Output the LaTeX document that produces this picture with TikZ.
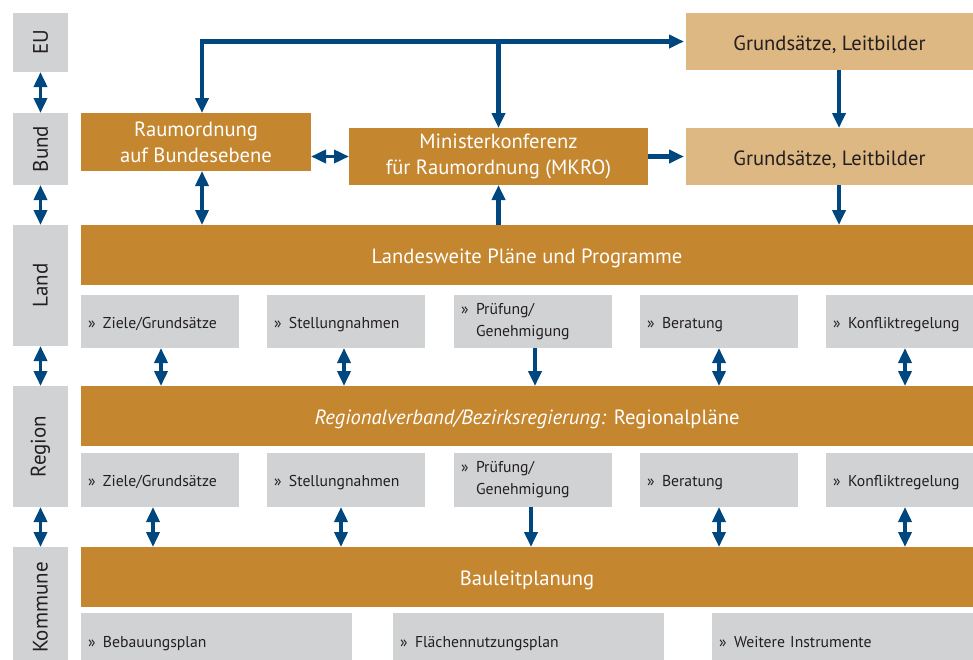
\documentclass[tikz,border=0pt]{standalone}
\usepackage{fontspec}
\setmainfont{PT Sans}
\usetikzlibrary{arrows.meta}
\definecolor{ochre}{HTML}{C4862F}
\definecolor{tan}{HTML}{DDB883}
\definecolor{panel}{HTML}{D1D2D4}
\definecolor{navy}{HTML}{00467F}
\definecolor{ink}{HTML}{231F20}
\newcommand{\bul}{\makebox[15pt][l]{»}}
\begin{document}
\begin{tikzpicture}[x=1pt,y=-1pt,
  blk/.style={anchor=north west, inner sep=0pt, outer sep=0pt},
  lvl/.style={blk, fill=panel, minimum width=55pt, text=ink, font=\fontsize{21}{24}\selectfont},
  body/.style={blk, fill=ochre, text=white, align=center, font=\fontsize{20.6}{26}\selectfont},
  bar/.style={body, minimum width=892pt, minimum height=60pt, text height=16.5pt, text depth=0pt},
  goal/.style={blk, fill=tan, text=ink, minimum width=287pt, minimum height=57pt,
    text height=17pt, text depth=0pt, font=\fontsize{20.6}{24}\selectfont},
  item/.style={blk, fill=panel, text=ink, align=left, inner xsep=7pt, font=\fontsize{15.7}{22}\selectfont},
  line1/.style={item, text height=13pt, text depth=0pt},
  tip/.tip={Triangle[width=13pt,length=15pt]},
  link/.style={draw=navy, line width=4.2pt, line join=miter, -tip},
  both/.style={draw=navy, line width=3.6pt, tip-tip},
]
\useasboundingbox (0,0) rectangle (973,659);

% level labels on the left
\node[lvl, minimum height=59pt]  (eu)   at (13,13)  {\rotatebox{90}{EU}};
\node[lvl, minimum height=72pt]  (bund) at (13,113) {\rotatebox{90}{Bund}};
\node[lvl, minimum height=121pt] (land) at (13,225) {\rotatebox{90}{Land}};
\node[lvl, minimum height=121pt] (reg)  at (13,386) {\rotatebox{90}{Region}};
\node[lvl, minimum height=121pt] (kom)  at (13,547) {\rotatebox{90}{Kommune}};

% federal level
\node[body, minimum width=230pt, minimum height=58pt] (rb) at (81,113) {Raumordnung\\auf Bundesebene};
\node[body, minimum width=299pt, minimum height=57pt] (mk) at (349,128) {Ministerkonferenz\\für Raumordnung (MKRO)};
\node[goal] (g1) at (686,13)  {Grundsätze, Leitbilder};
\node[goal] (g2) at (686,128) {Grundsätze, Leitbilder};

% state, region and municipal bars
\node[bar] (lp) at (81,225) {Landesweite Pläne und Programme};
\node[bar, text height=17pt] (rp) at (81,386) {\textit{Regionalverband/Bezirksregierung:} Regionalpläne};
\node[bar] (bl) at (81,547) {Bauleitplanung};

% instruments of the state level
\node[line1, text width=144pt, minimum height=53pt] (la1) at (81,295)  {\bul Ziele/Grundsätze};
\node[line1, text width=144pt, minimum height=53pt] (la2) at (267,295) {\bul Stellungnahmen};
\node[item,  text width=144pt, minimum height=53pt] (la3) at (454,295) {\bul Prüfung/\\\hspace*{15pt}Genehmigung};
\node[line1, text width=144pt, minimum height=53pt] (la4) at (640,295) {\bul Beratung};
\node[line1, text width=133pt, minimum height=53pt] (la5) at (826,295) {\bul Konfliktregelung};

% instruments of the regional level
\node[line1, text width=144pt, minimum height=54pt] (re1) at (81,453)  {\bul Ziele/Grundsätze};
\node[line1, text width=144pt, minimum height=54pt] (re2) at (267,453) {\bul Stellungnahmen};
\node[item,  text width=144pt, minimum height=54pt] (re3) at (454,453) {\bul Prüfung/\\\hspace*{15pt}Genehmigung};
\node[line1, text width=144pt, minimum height=54pt] (re4) at (640,453) {\bul Beratung};
\node[line1, text width=133pt, minimum height=54pt] (re5) at (826,453) {\bul Konfliktregelung};

% municipal instruments
\node[line1, text width=257pt, minimum height=55pt] (k1) at (81,613)  {\bul Bebauungsplan};
\node[line1, text width=257pt, minimum height=55pt] (k2) at (393,613) {\bul Flächennutzungsplan};
\node[line1, text width=247pt, minimum height=55pt] (k3) at (712,613) {\bul Weitere Instrumente};

% connectors between the level labels
\draw[both] (eu.south) -- (bund.north);
\draw[both] (bund.south) -- (land.north);
\draw[both] (land.south) -- (reg.north);
\draw[both] (reg.south) -- (kom.north);

% federal connectors
\coordinate (fork) at (202,42);
\draw[link, tip-tip] (fork |- rb.north) |- ([xshift=-2pt]g1.west);
\draw[link] (mk.north |- fork) -- (mk.north);
\draw[both] (rb.east |- mk.west) -- (mk.west);
\draw[link] (mk.east) -- ([xshift=-2pt]g2.west);
\draw[link] ([xshift=9.5pt]g1.south) -- ([xshift=9.5pt]g2.north);
\draw[link] ([xshift=9.5pt]g2.south) -- ([xshift=9.5pt]g2.south |- lp.north);
\draw[both] (fork |- rb.south) -- (fork |- lp.north);
\draw[link] (mk.south |- lp.north) -- (mk.south);

% state level to region
\draw[both] ([xshift=1pt]la1.south) -- ([xshift=1pt]la1.south |- rp.north);
\draw[both] ([xshift=-2pt]la2.south) -- ([xshift=-2pt]la2.south |- rp.north);
\draw[link] (la3.south -| 535,0) -- (rp.north -| 535,0);
\draw[both] (la4.south) -- (la4.south |- rp.north);
\draw[both] (la5.south -| 905,0) -- (rp.north -| 905,0);

% region to municipal level
\draw[both] (re1.south -| 153,0) -- (bl.north -| 153,0);
\draw[both] (re2.south -| 341,0) -- (bl.north -| 341,0);
\draw[link] (re3.south -| 531,0) -- (bl.north -| 531,0);
\draw[both] (re4.south) -- (re4.south |- bl.north);
\draw[both] (re5.south -| 905,0) -- (bl.north -| 905,0);
\end{tikzpicture}
\end{document}
